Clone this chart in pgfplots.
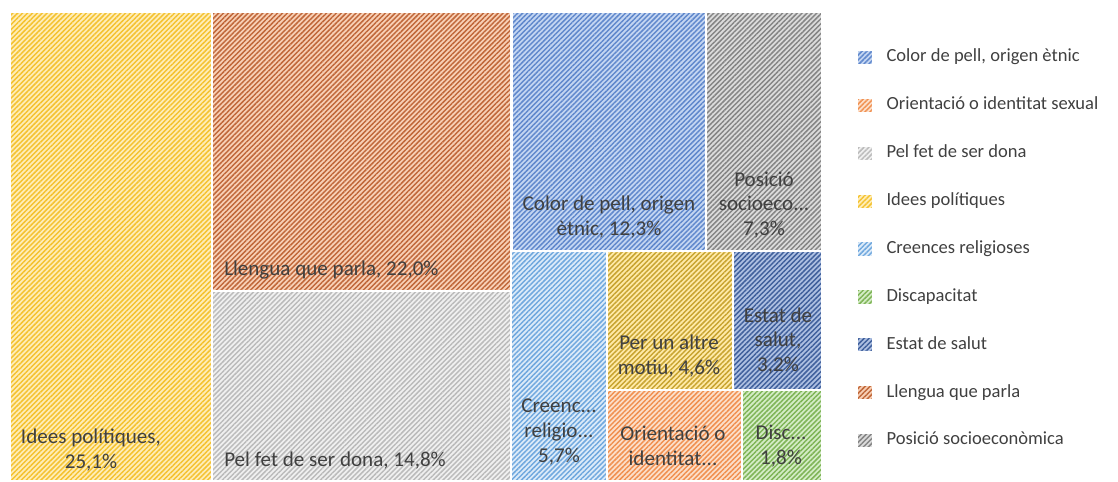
\documentclass[border=0pt]{standalone}
\usepackage{pgfplots}
\pgfplotsset{compat=1.18}
\usepackage{fontspec}
\setmainfont{Carlito}
\usetikzlibrary{patterns.meta}
\definecolor{txt}{HTML}{404040}
% stripe / background colours
\definecolor{ideS}{HTML}{F4C230}\definecolor{ideB}{HTML}{FFEDB8}
\definecolor{llS}{HTML}{C0683A}\definecolor{llB}{HTML}{F8D0B6}
\definecolor{peS}{HTML}{BBBBBB}\definecolor{peB}{HTML}{F0F0F0}
\definecolor{coS}{HTML}{6088CC}\definecolor{coB}{HTML}{C4D6F2}
\definecolor{poS}{HTML}{858585}\definecolor{poB}{HTML}{DCDCDC}
\definecolor{crS}{HTML}{70A8DE}\definecolor{crB}{HTML}{DCEBF9}
\definecolor{alS}{HTML}{C8A430}\definecolor{alB}{HTML}{FFEAA8}
\definecolor{esS}{HTML}{40609C}\definecolor{esB}{HTML}{AEC0E2}
\definecolor{orS}{HTML}{F09050}\definecolor{orB}{HTML}{FCDFCA}
\definecolor{diS}{HTML}{7EB456}\definecolor{diB}{HTML}{D4ECC6}
\tikzset{
  tm/.style n args={2}{fill=#2, draw=white, line width=1.2pt,
    postaction={pattern={Lines[angle=45,distance=2.6pt,line width=1.1pt]}, pattern color=#1}},
}
\begin{document}
\begin{tikzpicture}
\begin{axis}[
  scale only axis, width=838.5pt, height=360.75pt,
  xmin=0, xmax=1118, ymin=0, ymax=481, y dir=reverse,
  hide axis, clip=false,
  legend image code/.code={\draw[#1] (0pt,-5.6pt) rectangle (12pt,5.6pt);},
  legend style={at={(axis cs:856,49)}, anchor=north west, draw=none, fill=none,
    font=\fontsize{13.9pt}{16pt}\selectfont\color{txt}, inner sep=0pt,
    row sep=23.4pt, column sep=0pt,
    nodes={inner sep=0pt, text height=9.5pt, text depth=3pt}},
  legend cell align=left,
  legend columns=1,
]
% Legend order plots
\addplot[tm={coS}{coB}] coordinates {(512,12) (706,12) (706,251) (512,251) (512,12)};
\addplot[tm={orS}{orB}] coordinates {(607,390) (742,390) (742,481) (607,481) (607,390)};
\addplot[tm={peS}{peB}] coordinates {(212,291) (511,291) (511,481) (212,481) (212,291)};
\addplot[tm={ideS}{ideB}] coordinates {(10,12) (212,12) (212,481) (10,481) (10,12)};
\addplot[tm={crS}{crB}] coordinates {(511,251) (607,251) (607,481) (511,481) (511,251)};
\addplot[tm={diS}{diB}] coordinates {(742,390) (822,390) (822,481) (742,481) (742,390)};
\addplot[tm={esS}{esB}] coordinates {(733,251) (822,251) (822,390) (733,390) (733,251)};
\addplot[tm={llS}{llB}] coordinates {(212,12) (511,12) (511,291) (212,291) (212,12)};
\addplot[tm={poS}{poB}] coordinates {(706,12) (822,12) (822,251) (706,251) (706,12)};
\addplot[tm={alS}{alB}, forget plot] coordinates {(607,251) (733,251) (733,390) (607,390) (607,251)};
\legend{{\hspace{9.5pt}Color de pell, origen ètnic},
  {\hspace{9.5pt}Orientació o identitat sexual},
  {\hspace{9.5pt}Pel fet de ser dona},
  {\hspace{9.5pt}Idees polítiques},
  {\hspace{9.5pt}Creences religioses},
  {\hspace{9.5pt}Discapacitat},
  {\hspace{9.5pt}Estat de salut},
  {\hspace{9.5pt}Llengua que parla},
  {\hspace{9.5pt}Posició socioeconòmica}}
% labels
\begin{scope}[every node/.style={font=\fontsize{15.8pt}{18.6pt}\selectfont, text=txt, align=center, inner sep=0pt}]
\node at (axis cs:91,450) {Idees polítiques,\\25,1\%};
\node[anchor=west] at (axis cs:224,270) {Llengua que parla, 22,0\%};
\node[anchor=west] at (axis cs:224,461) {Pel fet de ser dona, 14,8\%};
\node at (axis cs:609,217) {Color de pell, origen\\ètnic, 12,3\%};
\node at (axis cs:764,205) {Posició\\socioeco...\\7,3\%};
\node at (axis cs:559,432) {Creenc...\\religio...\\5,7\%};
\node at (axis cs:669,356) {Per un altre\\motiu, 4,6\%};
\node at (axis cs:778,341) {Estat de\\salut,\\3,2\%};
\node at (axis cs:673,446) {Orientació o\\identitat...};
\node at (axis cs:781,446) {Disc...\\1,8\%};
\end{scope}
\path (axis cs:0,0) rectangle (axis cs:1118,481);
\end{axis}
\end{tikzpicture}
\end{document}
